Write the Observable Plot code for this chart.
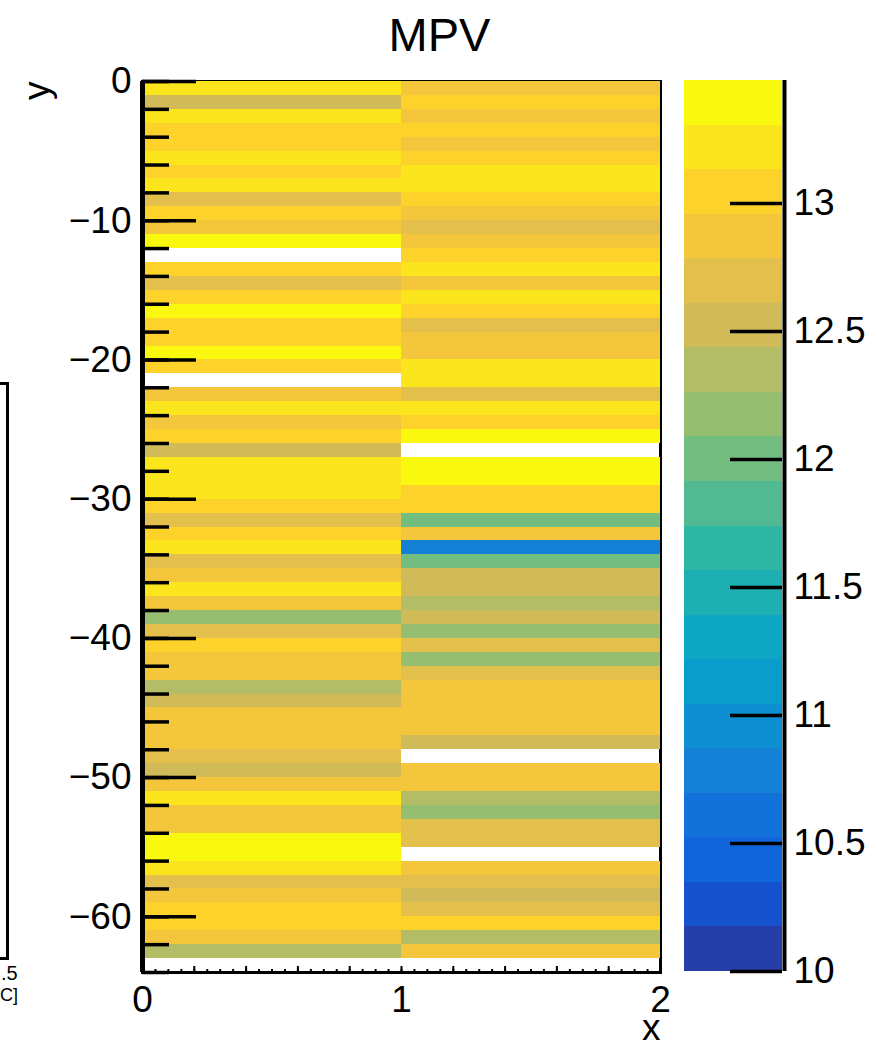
<!DOCTYPE html>
<html>
<head>
<meta charset="utf-8">
<script src="https://cdn.jsdelivr.net/npm/d3@7"></script>
<script src="https://cdn.jsdelivr.net/npm/@observablehq/plot@0.6"></script>
<style>
  body { margin: 0; background: #fff; }
  #wrap { position: relative; width: 877px; height: 1046px; overflow: hidden;
          font-family: "Liberation Sans", Arial, Helvetica, sans-serif; color: #000; }
  #wrap svg { position: absolute; left: 0; top: 0; overflow: visible; }
  .remnant-box { position: absolute; left: -21px; top: 382px; width: 24px; height: 572px;
                 border: 3px solid #000; }
  .remnant-txt { position: absolute; left: 1px; font-size: 20px; line-height: 20px; white-space: nowrap; }
</style>
</head>
<body>
<div id="wrap">
  <div class="remnant-box"></div>
  <div class="remnant-txt" style="top:963px">.5</div>
  <div class="remnant-txt" style="top:985px;left:0px;font-size:18px">C]</div>
</div>
<script>
// ---------------- data ----------------
// bin edges
const xEdges = [0, 1, 2];
const yEdges = d3.range(0, -65, -1);           // 0, -1, ..., -64 (64 bins)

// MPV per bin, row 0 = bin [0,-1], ... row 63 = bin [-63,-64]; null = empty bin
const leftMPV = [
  13.22, 12.52, 13.22, 13.05, 13.05, 13.22, 13.05, 13.22, 12.70, 13.05,
  12.87, 13.39, null,  13.05, 12.70, 13.05, 13.39, 13.05, 13.05, 13.39,
  13.05, null,  12.87, 13.22, 12.87, 13.05, 12.52, 13.22, 13.22, 13.22,
  13.05, 12.70, 13.05, 13.22, 12.70, 12.87, 13.22, 12.87, 12.18, 12.70,
  13.05, 12.87, 12.87, 12.35, 12.52, 12.87, 12.87, 12.87, 12.70, 12.52,
  12.87, 13.22, 12.87, 12.87, 13.39, 13.39, 13.22, 12.70, 12.87, 13.05,
  13.05, 12.87, 12.35, null
];
const rightMPV = [
  12.87, 13.05, 12.87, 13.05, 12.87, 13.05, 13.22, 13.22, 13.05, 12.87,
  12.70, 12.87, 13.05, 13.22, 12.87, 13.22, 13.05, 12.70, 12.87, 12.87,
  13.22, 13.22, 12.70, 13.22, 13.05, 13.39, null,  13.39, 13.39, 13.05,
  13.05, 12.00, 12.87, 10.78, 12.00, 12.52, 12.52, 12.35, 12.52, 12.18,
  12.70, 12.18, 12.70, 12.87, 12.87, 12.87, 12.87, 12.52, null,  12.87,
  12.87, 12.35, 12.18, 12.70, 12.70, null,  12.87, 12.70, 12.52, 12.70,
  13.05, 12.35, 12.87, null
];

// colour axis
const zMin = 10, zMax = 13.48, nContours = 20;
const zTicks = [10, 10.5, 11, 11.5, 12, 12.5, 13];
const yMajorTicks = [0, -10, -20, -30, -40, -50, -60];
const yMinorTicks = d3.range(0, -65, -2);
const xLabelTicks = [0, 1, 2];
const xMajorTicks = d3.range(0, 2.0001, 0.2);
const xMinorTicks = d3.range(0, 2.0001, 0.05);

// ROOT kBird palette stops
const birdStops = [0.0000, 0.1250, 0.2500, 0.3750, 0.5000, 0.6250, 0.7500, 0.8750, 1.0000];
const birdR = [0.2082, 0.0592, 0.0780, 0.0232, 0.1802, 0.5301, 0.8186, 0.9956, 0.9764];
const birdG = [0.1664, 0.3599, 0.5041, 0.6419, 0.7178, 0.7492, 0.7328, 0.7862, 0.9832];
const birdB = [0.5293, 0.8684, 0.8385, 0.7914, 0.6425, 0.4662, 0.3499, 0.1968, 0.0539];

// ---------------- build ----------------
function birdPalette(n) {
  const pal = [];
  for (let g = 1; g < birdStops.length; g++) {
    const nc = Math.floor(n * birdStops[g]) - Math.floor(n * birdStops[g - 1]);
    for (let c = 0; c < nc; c++) {
      const f = c / nc;
      pal.push(d3.rgb(
        Math.round(255 * (birdR[g - 1] + f * (birdR[g] - birdR[g - 1]))),
        Math.round(255 * (birdG[g - 1] + f * (birdG[g] - birdG[g - 1]))),
        Math.round(255 * (birdB[g - 1] + f * (birdB[g] - birdB[g - 1])))
      ).formatHex());
    }
  }
  return pal;
}
const pal = birdPalette(255);
const dz = (zMax - zMin) / nContours;
const bandColors = d3.range(nContours).map(k => pal[Math.min(254, Math.floor((k + 0.99) * 255 / nContours))]);
const thresholds = d3.range(1, nContours).map(k => zMin + k * dz);
const bands = d3.range(nContours).map(k => ({lo: zMin + k * dz, hi: zMin + (k + 1) * dz, color: bandColors[k]}));

const cells = [];
[leftMPV, rightMPV].forEach((col, j) => {
  col.forEach((v, i) => {
    if (v != null) cells.push({x1: xEdges[j], x2: xEdges[j + 1], y1: yEdges[i + 1], y2: yEdges[i], v});
  });
});

const minus = d => (d < 0 ? "\u2212" + Math.abs(d) : String(d));
const font = "'Liberation Sans', Arial, Helvetica, sans-serif";
const FS = 37;

const W = 877, H = 1046;
const mL = 142, mR = 217, mT = 81, mB = 74;
const frameW = W - mL - mR, frameH = H - mT - mB;

const main = Plot.plot({
  width: W, height: H,
  marginLeft: mL, marginRight: mR, marginTop: mT, marginBottom: mB,
  style: {fontFamily: font, background: "transparent", color: "#000", overflow: "visible"},
  x: {domain: [0, 2], axis: null},
  y: {domain: [-64, 0], axis: null},
  color: {type: "threshold", domain: thresholds, range: bandColors},
  marks: [
    Plot.frame({stroke: "#000", strokeWidth: 3}),
    Plot.rect(cells, {x1: "x1", x2: "x2", y1: "y1", y2: "y2", fill: "v", shapeRendering: "crispEdges"}),
    Plot.tickY(yMinorTicks, {y: d => d, insetRight: frameW - 27, strokeWidth: 3.5, stroke: "#000"}),
    Plot.tickY(yMajorTicks, {y: d => d, insetRight: frameW - 54, strokeWidth: 3.5, stroke: "#000"}),
    Plot.tickX(xMinorTicks, {x: d => d, insetTop: frameH - 3, strokeWidth: 2, stroke: "#000"}),
    Plot.tickX(xMajorTicks, {x: d => d, insetTop: frameH - 6, strokeWidth: 2, stroke: "#000"}),
    Plot.ruleX([0], {strokeWidth: 5, stroke: "#000"}),
    Plot.axisY({ticks: yMajorTicks, tickSize: 0, tickPadding: 11, fontSize: FS, tickFormat: minus}),
    Plot.axisX({ticks: xLabelTicks, tickSize: 0, tickPadding: 13, fontSize: FS, tickFormat: d => String(d)}),
    Plot.text(["MPV"], {frameAnchor: "top", dx: 38, dy: 50 - mT, lineAnchor: "bottom", fontSize: 47, fill: "#000"}),
    Plot.text(["y"], {frameAnchor: "top-left", dx: 48 - mL, dy: 0, rotate: -90, textAnchor: "end", lineAnchor: "bottom", fontSize: FS, fill: "#000"}),
    Plot.text(["x"], {frameAnchor: "bottom-right", dx: 0, dy: 1039 - (H - mB), textAnchor: "end", lineAnchor: "bottom", fontSize: FS, fill: "#000"})
  ]
});

const cbar = Plot.plot({
  width: W, height: H,
  marginLeft: 684, marginRight: W - 782, marginTop: 80, marginBottom: H - 971,
  style: {fontFamily: font, background: "transparent", color: "#000", overflow: "visible"},
  x: {domain: [0, 1], axis: null},
  y: {domain: [zMin, zMax], axis: null},
  marks: [
    Plot.rect(bands, {y1: "lo", y2: "hi", fill: "color", shapeRendering: "crispEdges"}),
    Plot.tickY(zTicks, {y: d => d, insetLeft: 46, strokeWidth: 3.5, stroke: "#000"}),
    Plot.ruleX([1], {x: d => d, dx: 2, strokeWidth: 4, stroke: "#000"}),
    Plot.axisY({anchor: "right", ticks: zTicks, tickSize: 0, tickPadding: 11, fontSize: FS, tickFormat: d => String(d)})
  ]
});

const wrap = document.getElementById("wrap");
wrap.appendChild(main);
wrap.appendChild(cbar);
</script>
</body>
</html>
